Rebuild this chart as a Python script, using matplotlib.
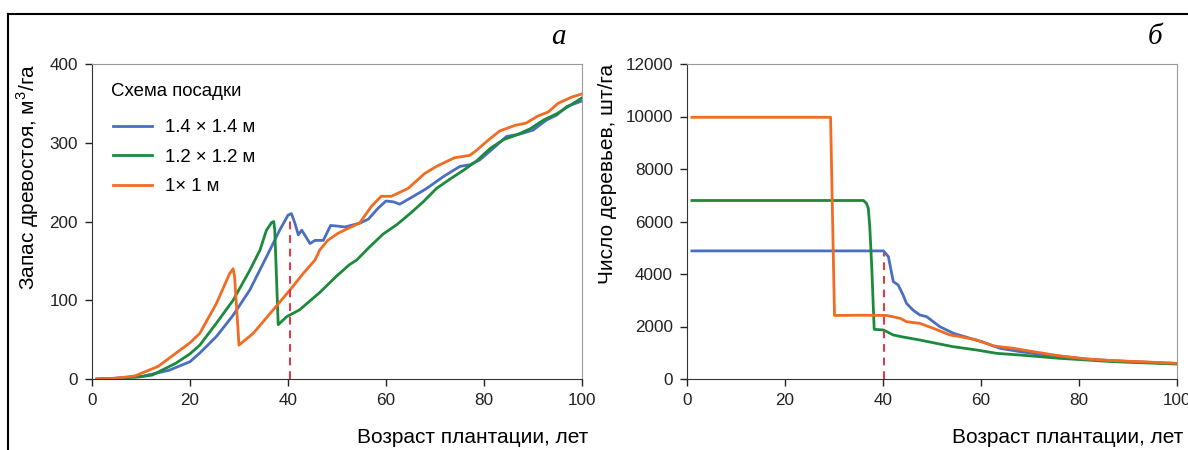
import matplotlib.pyplot as plt
from matplotlib.lines import Line2D

plt.rcParams['font.family'] = ['Liberation Sans', 'DejaVu Sans']
plt.rcParams['mathtext.fontset'] = 'custom'
plt.rcParams['mathtext.rm'] = 'Liberation Sans'

# панель а: запас древостоя, м3/га
age_v14 = [1, 5, 10, 15.7, 20.0, 22.0, 25.4, 28.8, 32.2, 35.6, 38.3, 40.0, 40.7, 41.4,
           42.1, 42.8, 44.5, 45.5, 47.2, 48.7, 50.3, 51.6, 54.7, 56.4, 58.4, 60.0, 61.5, 62.8,
           65.6, 68.3, 71.7, 75.1, 77.1, 79.1, 81.9, 84.6, 87.3, 90.0, 92.8, 94.8, 96.9, 100]
vol_v14 = [0, 1, 3, 11, 22, 33, 54, 81, 113, 155, 189, 208, 210, 198,
           183, 189, 172, 176, 176, 195, 194, 193, 198, 203, 217, 226, 225, 222,
           232, 242, 257, 270, 272, 278, 293, 308, 311, 316, 329, 335, 346, 353]

age_v12 = [1, 5, 10, 12.3, 17.1, 20.0, 22.0, 25.4, 28.8, 32.2, 34.3, 35.6, 36.7, 37.1, 37.3,
           38.0, 39.7, 42.4, 46.5, 49.8, 52.5, 54.0, 56.7, 59.4, 62.2, 64.9, 67.6,
           70.3, 73.1, 75.8, 78.5, 81.3, 84.0, 86.7, 89.5, 92.2, 94.9, 97.7, 100]
vol_v12 = [0, 1, 3, 5, 20, 32, 43, 71, 100, 138, 164, 189, 199, 200, 189,
           69, 79, 88, 110, 130, 145, 151, 168, 184, 196, 210, 225,
           242, 254, 265, 277, 293, 304, 310, 318, 329, 337, 348, 357]

age_v10 = [1, 5, 8.8, 13.5, 17.6, 20.0, 22.0, 25.4, 28.1, 28.8, 29.1, 30.0, 32.9, 37.0,
           40.4, 43.1, 45.5, 46.5, 48.1, 50.2, 52.2, 54.6, 57.0, 59.0, 61.1, 64.5, 67.9,
           70.3, 74.0, 77.1, 78.4, 80.8, 83.2, 86.3, 88.6, 91.0, 93.1, 95.1, 97.9, 100]
vol_v10 = [0, 1, 4, 16, 35, 46, 58, 96, 134, 140, 130, 43, 58, 88,
           113, 134, 151, 164, 176, 185, 191, 198, 219, 232, 232, 242, 261,
           270, 281, 284, 290, 303, 315, 322, 325, 334, 339, 350, 358, 362]

# панель б: число деревьев, шт/га
age_n14 = [1, 40.1, 41.1, 42.1, 43.1, 44.1, 44.8, 46.1, 47.5, 48.9, 51.6, 54.4, 57.8, 60.5,
           63.9, 68.0, 72.0, 76.2, 81.6, 87.0, 92.4, 100]
num_n14 = [4880, 4880, 4660, 3710, 3580, 3200, 2880, 2630, 2440, 2375, 1994, 1740, 1549, 1400,
           1168, 1041, 940, 870, 760, 698, 650, 590]

age_n12 = [1, 36.0, 36.6, 37.0, 37.3, 37.7, 38.2, 40.1, 42.1, 44.1, 47.5, 50.2, 54.3, 59.1,
           63.2, 67.9, 72.0, 76.1, 81.5, 87.0, 92.4, 100]
num_n12 = [6800, 6800, 6700, 6500, 5800, 4280, 1892, 1867, 1676, 1600, 1486, 1384, 1232, 1105,
           978, 914, 851, 787, 724, 660, 622, 570]

age_n10 = [1, 29.3, 30.1, 35.3, 40.8, 43.5, 44.8, 47.5, 50.3, 53.7, 55.8, 59.1, 62.6,
           66.7, 70.7, 76.2, 81.6, 87.0, 92.4, 100]
num_n10 = [9970, 9970, 2420, 2430, 2420, 2311, 2184, 2120, 1930, 1676, 1613, 1486, 1257,
           1168, 1041, 876, 762, 698, 660, 597]

labels = ['1.4 × 1.4 м', '1.2 × 1.2 м', '1× 1 м']
colors = ['#4a6fc2', '#1b8a3c', '#f26b22']

fig = plt.figure(figsize=(11.88, 4.5), dpi=100)
ax1 = fig.add_axes([92 / 1188, 71 / 450, 490 / 1188, 315 / 450])
ax2 = fig.add_axes([687 / 1188, 71 / 450, 490 / 1188, 315 / 450])

for x, y, c, lab in zip([age_v14, age_v12, age_v10], [vol_v14, vol_v12, vol_v10], colors, labels):
    ax1.plot(x, y, color=c, lw=2.0, label=lab)
for x, y, c in zip([age_n14, age_n12, age_n10], [num_n14, num_n12, num_n10], colors):
    ax2.plot(x, y, color=c, lw=2.0)

ax1.plot([40.4, 40.4], [0, 203], color='#e8323c', lw=1.4, ls=(0, (4, 3)))
ax2.plot([40.2, 40.2], [0, 4800], color='#e8323c', lw=1.4, ls=(0, (4, 3)))

ax1.set_ylim(0, 400)
ax1.set_yticks([0, 100, 200, 300, 400])
ax2.set_ylim(0, 12000)
ax2.set_yticks(range(0, 12001, 2000))

for ax in (ax1, ax2):
    ax.set_xlim(0, 100)
    ax.set_xticks(range(0, 101, 20))
    ax.tick_params(direction='out', length=5, width=1, labelsize=12.3, colors='#222222', pad=5)
    for s in ('left', 'bottom'):
        ax.spines[s].set_color('#333333')
    for s in ('top', 'right'):
        ax.spines[s].set_color('#999999')
    ax.set_xlabel('Возраст плантации, лет', fontsize=15, loc='right')
    ax.xaxis.set_label_coords(1.013, -0.155)

ax1.set_ylabel('Запас древостоя, м$^3$/га', fontsize=15, loc='top', labelpad=6)
ax2.set_ylabel('Число деревьев, шт/га', fontsize=15, loc='top', labelpad=6)

# заголовок легенды отдельно, чтобы выдержать отступ
ax1.text(0.039, 0.912, 'Схема посадки', transform=ax1.transAxes, fontsize=13.4,
         ha='left', va='center')
leg = ax1.legend(loc='upper left', bbox_to_anchor=(0.008, 0.878),
                 frameon=False, fontsize=13.4,
                 handlelength=2.1, handletextpad=0.7, labelspacing=0.67)

fig.text(558 / 1188, 1 - 37 / 450, 'а', family='Liberation Serif', style='italic',
         fontsize=21, ha='center', va='center')
fig.text(1155 / 1188, 1 - 37 / 450, 'б', family='Liberation Serif', style='italic',
         fontsize=21, ha='center', va='center')

# рамка рисунка
fig.add_artist(Line2D([8 / 1188, 1], [1 - 14 / 450, 1 - 14 / 450], color='black', lw=1.5))
fig.add_artist(Line2D([8 / 1188, 8 / 1188], [0, 1 - 14 / 450], color='black', lw=1.5))

fig.savefig('out.png', dpi=100)
